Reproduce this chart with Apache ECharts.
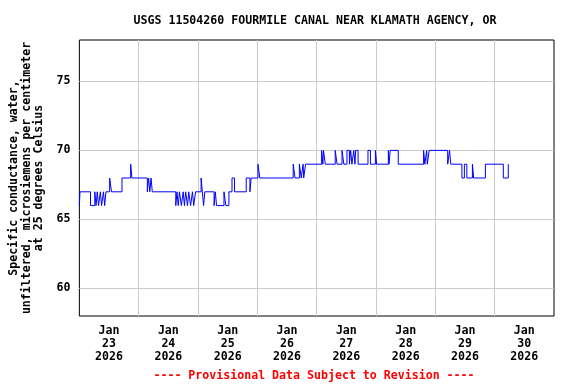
<!DOCTYPE html>
<html><head><meta charset="utf-8">
<script src="https://cdn.jsdelivr.net/npm/echarts@6/dist/echarts.min.js"></script>
<style>html,body{margin:0;padding:0;background:#fff}#c{width:576px;height:384px}</style>
</head><body><div id="c"></div>
<script>
const titleText = 'USGS 11504260 FOURMILE CANAL NEAR KLAMATH AGENCY, OR';
const yAxisTitle = 'Specific conductance, water,\nunfiltered, microsiemens per centimeter\nat 25 degrees Celsius';
const footnote = '---- Provisional Data Subject to Revision ----';
// x axis in hours since 2026-01-23 00:00
const dayLabels = ['Jan\n23\n2026','Jan\n24\n2026','Jan\n25\n2026','Jan\n26\n2026','Jan\n27\n2026','Jan\n28\n2026','Jan\n29\n2026','Jan\n30\n2026'];
const dayLabelHours = [12, 36, 60, 84, 108, 132, 156, 180];
const midnightHours = [24, 48, 72, 96, 120, 144, 168];
const yTicks = [60, 65, 70, 75];
// change points of the step series: value holds from hour until next hour
const changeHours = [0,0.25,4.5,6.25,6.75,7.25,7.75,8.5,9,9.75,10.25,10.75,12.25,13,17.25,20.75,21.25,27.5,28,28.5,29,29.5,
  39,39.5,40,40.5,41.25,42,42.5,43,43.75,44.25,45,45.75,46.25,47,49.25,49.75,50.25,50.75,54.5,55,55.5,58.5,59.25,60.5,61.75,62.75,
  67.5,69,69.5,72.25,73,86.5,87.25,89,89.75,90.5,90.75,91.5,98,98.5,98.75,99.5,103.5,104.25,106.25,107,108.25,109.25,109.75,110.25,
  111,111.5,111.75,112.75,116.75,117.75,119.75,120.25,125,125.25,125.75,129,139.25,139.75,140.5,140.75,141.5,149,149.75,150.25,
  154.75,155.75,156.75,159,159.5,164.25,171.5,173.5,173.75];
const changeValues = [66,67,66,67,66,67,66,67,66,67,66,67,68,67,68,69,68,67,68,67,68,67,
  66,67,66,67,66,67,66,67,66,67,66,67,66,67,68,67,66,67,66,67,66,67,66,67,68,67,
  68,67,68,69,68,69,68,69,68,69,68,69,70,69,70,69,70,69,70,69,70,69,70,69,
  70,69,70,69,70,69,70,69,70,69,70,69,70,69,70,69,70,69,70,69,
  68,69,68,69,68,69,68,69,69];

const FONT = 'DejaVu Sans Mono';
const chart = echarts.init(document.getElementById('c'));
chart.setOption({
  animation: false,
  backgroundColor: '#fff',
  title: [
    { text: titleText, left: 310, top: 10, textAlign: 'center',
      textStyle: { fontFamily: FONT, fontWeight: 'bold', fontSize: 11.6, color: '#000' } },
    { text: footnote, left: 309, top: 365, textAlign: 'center',
      textStyle: { fontFamily: FONT, fontWeight: 'bold', fontSize: 11.6, color: '#ff0000' } }
  ],
  grid: { left: 77, top: 40, width: 477, height: 276, show: true, borderColor: '#000', borderWidth: 1, backgroundColor: 'transparent' },
  xAxis: {
    type: 'value', min: 0, max: 192,
    axisLine: { show: false },
    axisTick: { show: false, customValues: midnightHours },
    splitLine: { show: true, lineStyle: { color: '#cccccc', width: 1 } },
    axisLabel: {
      customValues: dayLabelHours,
      formatter: function (v) { return dayLabels[dayLabelHours.indexOf(v)] || ''; },
      fontFamily: FONT, fontWeight: 'bold', fontSize: 11.6, color: '#000', lineHeight: 13, margin: 8
    }
  },
  yAxis: {
    type: 'value', min: 58, max: 78,
    name: yAxisTitle, nameLocation: 'middle', nameRotate: 90, nameGap: 33,
    nameTextStyle: { fontFamily: FONT, fontWeight: 'bold', fontSize: 11.6, color: '#000', lineHeight: 12.5, align: 'center' },
    axisLine: { show: false },
    axisTick: { show: false, customValues: yTicks },
    splitLine: { show: true, lineStyle: { color: '#cccccc', width: 1 } },
    axisLabel: { customValues: yTicks, fontFamily: FONT, fontWeight: 'bold', fontSize: 11.6, color: '#000', margin: 9 }
  },
  series: [{
    type: 'line', step: 'end', symbol: 'none',
    data: changeHours.map(function (h, i) { return [h, changeValues[i]]; }),
    lineStyle: { color: '#0000ff', width: 1 }
  }]
});
</script></body></html>
